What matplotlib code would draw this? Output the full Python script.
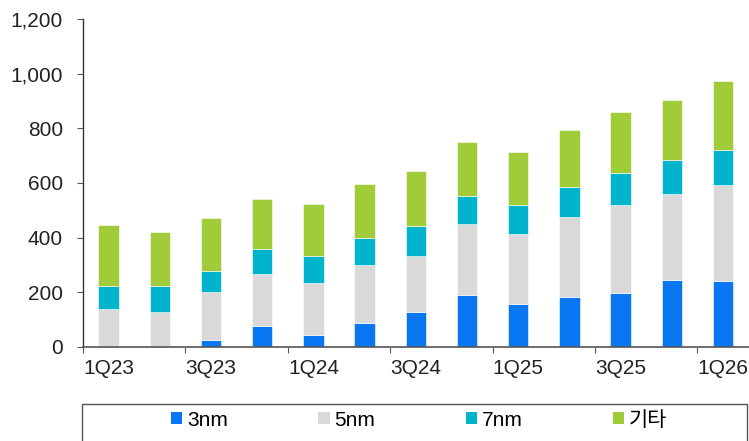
import matplotlib
matplotlib.use('Agg')
from matplotlib import pyplot as plt
from matplotlib.patches import Rectangle, Patch
import numpy as np

plt.rcParams['font.family'] = ['Liberation Sans', 'Noto Sans CJK KR']

# quarters and stacked series values
quarters = ['1Q23', '2Q23', '3Q23', '4Q23', '1Q24', '2Q24', '3Q24',
            '4Q24', '1Q25', '2Q25', '3Q25', '4Q25', '1Q26']
nm3 = [0, 0, 26, 76, 43, 87, 127, 191, 157, 184, 196, 245, 241]
nm5 = [138, 127, 174, 190, 191, 212, 207, 258, 256, 292, 325, 315, 353]
nm7 = [86, 96, 78, 92, 100, 101, 109, 103, 108, 109, 117, 124, 126]
etc = [222, 198, 194, 182, 188, 196, 202, 198, 192, 209, 223, 218, 254]
series_names = ['3nm', '5nm', '7nm', '기타']
colors = ['#0a77f2', '#d9d9d9', '#00b4cc', '#a0cc3a']
yticks = [0, 200, 400, 600, 800, 1000, 1200]

W, H = 749, 441
fs = 15
fig = plt.figure(figsize=(W / 100, H / 100), dpi=100)
ax = fig.add_axes([83 / W, (H - 347) / H, 665.6 / W, 328 / H])

x = np.arange(len(quarters))
bottom = np.zeros(len(quarters))
for vals, c in zip([nm3, nm5, nm7, etc], colors):
    ax.bar(x, vals, width=0.4, bottom=bottom, color=c,
           edgecolor='white', linewidth=0.4)
    bottom += np.array(vals)

ax.set_xlim(-0.5, len(quarters) - 0.5)
ax.set_ylim(0, 1200)
ax.set_yticks(yticks)
ax.set_yticklabels(['{:,}'.format(v) for v in yticks])

# tick marks on every other category boundary, labels on every other bar
ax.set_xticks(np.arange(-0.5, len(quarters), 2))
ax.set_xticklabels([])
ax.set_xticks(x[::2], minor=True)
ax.set_xticklabels(quarters[::2], minor=True)
ax.tick_params(axis='x', which='minor', length=0, pad=8.5, labelsize=fs, colors='#222222')
ax.tick_params(axis='x', which='major', length=4.5, color='#555555', direction='out')
ax.tick_params(axis='y', length=4.5, color='#555555', labelsize=fs, labelcolor='#222222', pad=10)

for s in ['top', 'right']:
    ax.spines[s].set_visible(False)
ax.spines['left'].set_color('#333333')
ax.spines['bottom'].set_color('#555555')
ax.spines['left'].set_linewidth(1.0)
ax.spines['bottom'].set_linewidth(1.2)

# legend box under the chart
fig.patches.append(Rectangle((82 / W, -0.05), 665 / W, (H - 404) / H + 0.05,
                             transform=fig.transFigure, fill=False,
                             edgecolor='#555555', linewidth=1.0))
handles = [Patch(facecolor=c, edgecolor='none') for c in colors]
fig.legend(handles, series_names, loc='center left', bbox_to_anchor=(171 / W, (H - 420) / H),
           ncol=4, frameon=False, fontsize=fs, handlelength=0.55, handleheight=0.55,
           handletextpad=0.21, columnspacing=4.35, borderpad=0, borderaxespad=0)

fig.savefig('out.png', dpi=100)
